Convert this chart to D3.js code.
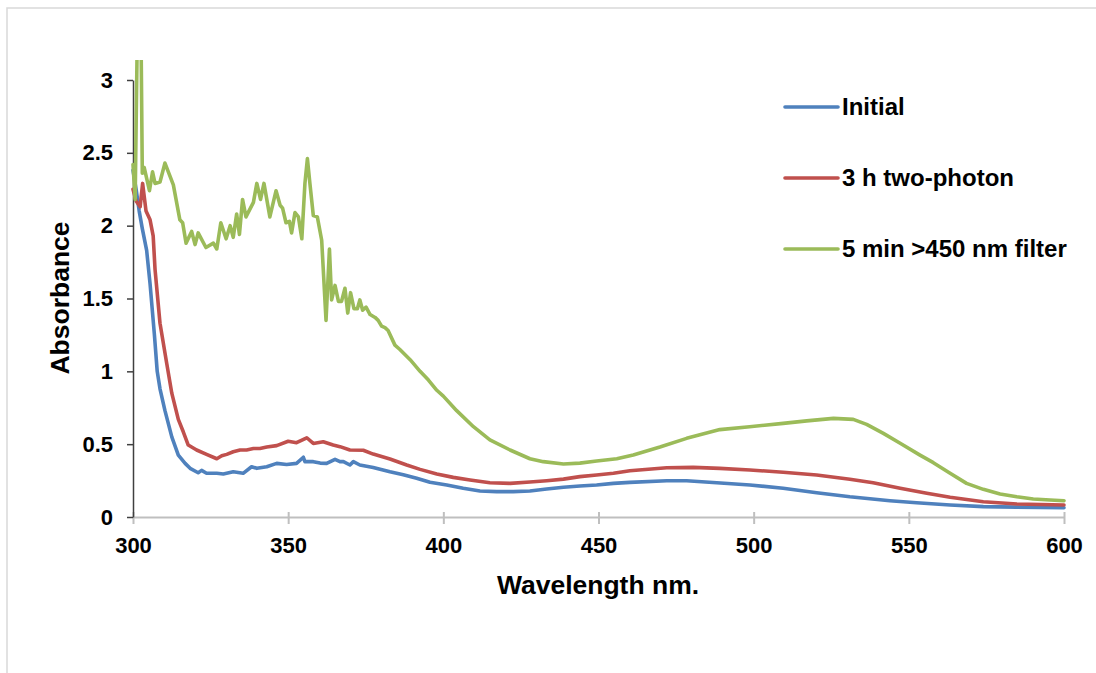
<!DOCTYPE html>
<html>
<head>
<meta charset="utf-8">
<script src="https://cdn.jsdelivr.net/npm/d3@7"></script>
<style>
  html, body { margin: 0; padding: 0; background: #fff; }
  svg { display: block; font-family: "Liberation Sans", Arial, sans-serif; }
</style>
</head>
<body>
<svg id="chart" width="1096" height="673"></svg>
<script>
// Absorption spectra: [wavelength (nm), absorbance]
const initialSpectrum = [
  [300,2.38],[301,2.25],[302,2.10],[303,1.98],[304.4,1.83],[305.5,1.60],[306.9,1.25],
  [307.8,1.00],[308.7,0.88],[310.3,0.73],[312.5,0.55],[314.6,0.425],[316.8,0.368],
  [318.4,0.334],[321,0.304],[322.1,0.32],[323.7,0.30],[327,0.30],[329.1,0.295],
  [332.3,0.31],[335.5,0.30],[338.2,0.345],[339.9,0.334],[343.1,0.345],[346.3,0.368],
  [349.5,0.36],[352.7,0.368],[354.9,0.41],[355.4,0.38],[358.1,0.38],[360.3,0.37],
  [362.4,0.368],[365.1,0.396],[366.7,0.38],[367.8,0.38],[369.9,0.357],[371,0.38],
  [373.1,0.357],[377.4,0.34],[382.8,0.31],[387.1,0.29],[391.4,0.266],[395.7,0.238],
  [401.1,0.22],[406.4,0.197],[411.8,0.178],[417.2,0.174],[422.5,0.174],[427.9,0.178],
  [433.3,0.192],[438.7,0.204],[444,0.213],[449.4,0.22],[454.8,0.231],[460.1,0.238],
  [472,0.249],[478.4,0.249],[488.1,0.235],[498.8,0.22],[509.5,0.197],[520.3,0.167],
  [531,0.139],[543.9,0.112],[552.5,0.098],[563.3,0.082],[574,0.071],[584.8,0.068],
  [600,0.064]
];

const twoPhotonSpectrum = [
  [300,2.25],[301,2.17],[302.3,2.13],[303.1,2.29],[304.2,2.10],[305.5,2.04],[306.5,1.93],
  [307.1,1.70],[308.7,1.33],[310.9,1.05],[312.5,0.85],[314.6,0.67],[316.2,0.585],
  [317.8,0.494],[320.5,0.46],[323.7,0.43],[327,0.40],[328.6,0.42],[330.2,0.43],
  [332.3,0.448],[334.5,0.46],[336.6,0.46],[338.8,0.47],[340.9,0.47],[343.1,0.48],
  [346.3,0.49],[350,0.52],[352.7,0.51],[356,0.544],[358.1,0.505],[361.3,0.517],
  [364.5,0.494],[366.7,0.483],[369.9,0.46],[374.2,0.458],[377.4,0.432],[382.8,0.398],
  [388.2,0.357],[392.5,0.327],[397.9,0.295],[403.2,0.272],[408.6,0.254],[415,0.235],
  [421.5,0.231],[427.9,0.24],[433.3,0.249],[438.7,0.26],[444,0.277],[449.4,0.288],
  [454.8,0.30],[460.1,0.318],[472,0.338],[480.5,0.341],[489.1,0.334],[498.8,0.323],
  [509.5,0.307],[520.3,0.288],[531,0.259],[538.5,0.235],[547.2,0.197],[555.8,0.163],
  [563.3,0.135],[574,0.105],[584.8,0.089],[600,0.082]
];

const filterSpectrum = [
  [300,2.42],[300.7,2.18],[301.5,3.5],[302.5,3.5],[303,2.36],[303.6,2.40],[305.3,2.24],
  [306.3,2.37],[307.1,2.29],[308.7,2.30],[310.3,2.43],[313,2.28],[315.1,2.04],[316,2.02],
  [317.1,1.88],[318.9,1.96],[320,1.87],[321,1.95],[323.5,1.85],[325.9,1.88],[327,1.84],
  [328.3,2.02],[330,1.91],[331.3,2.00],[332.3,1.92],[333.4,2.08],[334.3,1.94],[335.3,2.18],
  [336.4,2.06],[338.8,2.16],[339.9,2.29],[341.1,2.18],[342.2,2.29],[344.1,2.06],[346.1,2.24],
  [347.4,2.14],[348.2,2.12],[349.3,2.02],[350.4,2.03],[351.1,1.95],[352.2,2.09],[353.3,2.06],
  [354.4,1.91],[355.4,2.29],[356.2,2.46],[357,2.29],[358.1,2.07],[359.4,2.06],[360.8,1.90],
  [362.2,1.35],[363.3,1.84],[364,1.49],[365.1,1.59],[366.2,1.48],[367.2,1.48],[368.3,1.57],
  [369.2,1.40],[370.1,1.54],[371.2,1.43],[372.3,1.43],[373.1,1.49],[374,1.42],[375.1,1.44],
  [376.4,1.39],[378,1.37],[379,1.35],[380.1,1.31],[381.2,1.30],[382.2,1.28],[384.4,1.18],
  [386,1.15],[389.3,1.08],[392.5,1.00],[395.2,0.94],[397.9,0.87],[400,0.83],[404.3,0.73],
  [409.7,0.62],[415,0.53],[421.5,0.46],[427.9,0.40],[432.2,0.38],[438.7,0.364],[444,0.37],
  [449.4,0.384],[455.9,0.40],[461.2,0.425],[469.8,0.48],[478.4,0.54],[489.1,0.60],
  [498.7,0.62],[509.5,0.643],[517.1,0.66],[525.7,0.677],[532.1,0.67],[536.4,0.636],
  [541.8,0.574],[547.2,0.506],[553.6,0.425],[557.9,0.373],[563.3,0.30],[568.6,0.231],
  [574,0.19],[579.4,0.158],[584.8,0.139],[590.1,0.124],[595.5,0.117],[600,0.112]
];

const seriesNames = ["Initial", "3 h two-photon", "5 min >450 nm filter"];
const seriesColors = ["#4F81BD", "#C0504D", "#9BBB59"];
const xTickValues = [300, 350, 400, 450, 500, 550, 600];
const yTickValues = [0, 0.5, 1, 1.5, 2, 2.5, 3];

const svg = d3.select("#chart");

// outer frame of the chart area
svg.append("rect")
  .attr("x", 7).attr("y", 8)
  .attr("width", 1200).attr("height", 800)
  .attr("fill", "none").attr("stroke", "#d9d9d9").attr("stroke-width", 1.5);

const x = d3.scaleLinear().domain([300, 600]).range([133, 1064]);
const y = d3.scaleLinear().domain([0, 3]).range([517, 80]);

// x axis (light gray, ticks crossing the axis line)
const xAxis = svg.append("g")
  .attr("transform", `translate(0,${y(0)})`)
  .call(d3.axisBottom(x).tickValues(xTickValues).tickSizeOuter(0).tickSizeInner(7).tickPadding(13));
xAxis.select(".domain").attr("stroke", "#bfbfbf").attr("stroke-width", 2);
xAxis.selectAll(".tick line").attr("stroke", "#bfbfbf").attr("stroke-width", 2).attr("y1", -5);
xAxis.selectAll(".tick text")
  .attr("fill", "#000").attr("font-size", 22).attr("font-weight", "bold")
  .attr("font-family", "Liberation Sans, Arial, sans-serif");

// y axis (dark)
const yAxis = svg.append("g")
  .attr("transform", `translate(${x(300)},0)`)
  .call(d3.axisLeft(y).tickValues(yTickValues).tickSizeOuter(0).tickSizeInner(6)
    .tickPadding(14).tickFormat(d3.format("")));
yAxis.select(".domain").attr("stroke", "#404040").attr("stroke-width", 1.5);
yAxis.selectAll(".tick line").attr("stroke", "#404040").attr("stroke-width", 1.5);
yAxis.selectAll(".tick text")
  .attr("fill", "#000").attr("font-size", 22).attr("font-weight", "bold")
  .attr("font-family", "Liberation Sans, Arial, sans-serif");

// axis titles
svg.append("text")
  .attr("x", 598).attr("y", 594)
  .attr("text-anchor", "middle")
  .attr("font-size", 26.5).attr("font-weight", "bold")
  .text("Wavelength nm.");
svg.append("text")
  .attr("transform", "translate(69,298) rotate(-90)")
  .attr("text-anchor", "middle")
  .attr("font-size", 26.5).attr("font-weight", "bold")
  .text("Absorbance");

// plot clip so off-scale values stop at the frame
svg.append("clipPath").attr("id", "plotClip")
  .append("rect").attr("x", 0).attr("y", 60).attr("width", 1096).attr("height", 500);

const line = d3.line()
  .x(d => x(d[0]))
  .y(d => y(d[1]));

const spectra = [initialSpectrum, twoPhotonSpectrum, filterSpectrum];
svg.append("g").attr("clip-path", "url(#plotClip)")
  .selectAll("path")
  .data(spectra)
  .join("path")
  .attr("d", line)
  .attr("fill", "none")
  .attr("stroke", (d, i) => seriesColors[i])
  .attr("stroke-width", 3.6)
  .attr("stroke-linejoin", "round")
  .attr("stroke-linecap", "round");

// legend
const legendY = [107, 178, 249];
const legend = svg.append("g")
  .selectAll("g")
  .data(seriesNames)
  .join("g")
  .attr("transform", (d, i) => `translate(785,${legendY[i]})`);
legend.append("line")
  .attr("x1", 0).attr("x2", 53).attr("y1", 0).attr("y2", 0)
  .attr("stroke", (d, i) => seriesColors[i])
  .attr("stroke-width", 3.6).attr("stroke-linecap", "round");
legend.append("text")
  .attr("x", 57).attr("dy", "0.35em")
  .attr("font-size", 24).attr("font-weight", "bold")
  .text(d => d);
</script>
</body>
</html>
